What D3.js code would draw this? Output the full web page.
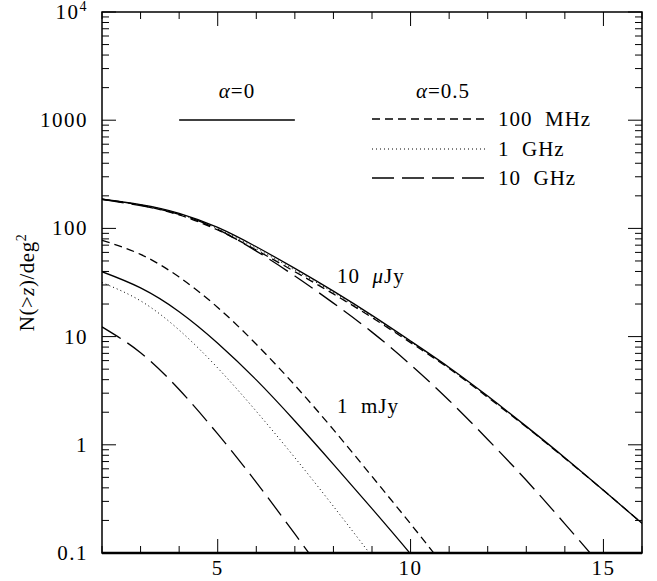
<!DOCTYPE html>
<html>
<head>
<meta charset="utf-8">
<script src="https://cdn.jsdelivr.net/npm/d3@7"></script>
<style>
  body { margin: 0; background: #fff; }
  svg text { font-family: "Liberation Serif", "DejaVu Serif", serif; fill: #000; }
</style>
</head>
<body>
<div id="chart"></div>
<script>
// Redshift grid (the curves are sampled at integer z)
const zGrid = [2, 3, 4, 5, 6, 7, 8, 9, 10, 11, 12, 13, 14, 15, 16];

// 10 microJy curves
const a0_10uJy = [186, 166, 138, 102, 67.6, 42.7, 26.3, 15.7, 9.1, 5.19, 2.82, 1.48, 0.76, 0.38, 0.188];
const mhz100_10uJy = [186, 164, 133, 96.6, 63.1, 39.8, 24.8, 15.0, 8.8, 5.07, 2.75, 1.46, 0.75, 0.38, 0.188];
const ghz1_10uJy = [186, 165, 136, 99.5, 65.3, 41.2, 25.6, 15.3, 8.97, 5.13, 2.79, 1.47, 0.755, 0.38, 0.188];
const ghz10_10uJy = [186, 162, 135, 98, 61.7, 36.3, 20.4, 11.0, 5.5, 2.57, 1.12, 0.47, 0.186, 0.072, 0.0275];

// 1 mJy curves
const a0_1mJy = [39.8, 28.2, 17.0, 8.7, 3.98, 1.66, 0.66, 0.257, 0.098, 0.036];
const mhz100_1mJy = [77.6, 57.5, 35.5, 18.6, 8.5, 3.55, 1.38, 0.51, 0.186, 0.066];
const ghz1_1mJy = [31.6, 21.4, 11.5, 5.13, 2.04, 0.76, 0.27, 0.093, 0.032];
const ghz10_1mJy = [12.3, 7.1, 3.24, 1.26, 0.45, 0.15, 0.049];

const xMajorTicks = [5, 10, 15];
const yMajorTicks = [0.1, 1, 10, 100, 1000, 10000];
const yTickLabels = ["0.1", "1", "10", "100", "1000", "10^4"];

const width = 657, height = 581;
const margin = { top: 12, right: 15, bottom: 28, left: 102 };
const w = width - margin.left - margin.right;
const h = height - margin.top - margin.bottom;

const svg = d3.select("#chart").append("svg")
    .attr("width", width)
    .attr("height", height);

const g = svg.append("g")
    .attr("transform", `translate(${margin.left},${margin.top})`);

const x = d3.scaleLinear().domain([2, 16]).range([0, w]);
const y = d3.scaleLog().domain([0.1, 10000]).range([h, 0]);

// minor tick positions
const xMinor = d3.range(2, 17).filter(v => !xMajorTicks.includes(v));
const yMinor = [];
yMajorTicks.slice(0, -1).forEach(d => {
    for (let k = 2; k <= 9; k++) yMinor.push(d * k);
});

g.append("defs").append("clipPath").attr("id", "clip")
    .append("rect").attr("width", w).attr("height", h);

// ticks (all pointing inward, on all four sides)
const ticks = g.append("g").attr("stroke", "#000").attr("stroke-width", 1);
xMajorTicks.forEach(v => {
    ticks.append("line").attr("x1", x(v)).attr("x2", x(v)).attr("y1", h).attr("y2", h - 14);
    ticks.append("line").attr("x1", x(v)).attr("x2", x(v)).attr("y1", 0).attr("y2", 14);
});
xMinor.forEach(v => {
    ticks.append("line").attr("x1", x(v)).attr("x2", x(v)).attr("y1", h).attr("y2", h - 7);
    ticks.append("line").attr("x1", x(v)).attr("x2", x(v)).attr("y1", 0).attr("y2", 7);
});
yMajorTicks.forEach(v => {
    ticks.append("line").attr("x1", 0).attr("x2", 14).attr("y1", y(v)).attr("y2", y(v));
    ticks.append("line").attr("x1", w).attr("x2", w - 14).attr("y1", y(v)).attr("y2", y(v));
});
yMinor.forEach(v => {
    ticks.append("line").attr("x1", 0).attr("x2", 7).attr("y1", y(v)).attr("y2", y(v));
    ticks.append("line").attr("x1", w).attr("x2", w - 7).attr("y1", y(v)).attr("y2", y(v));
});

// frame
g.append("rect").attr("width", w).attr("height", h)
    .attr("fill", "none").attr("stroke", "#000").attr("stroke-width", 1.5);
g.append("line").attr("x1", 0).attr("x2", w).attr("y1", h).attr("y2", h)
    .attr("stroke", "#000").attr("stroke-width", 2.5);

// tick labels
g.selectAll(".xlab").data(xMajorTicks).enter().append("text")
    .attr("class", "xlab")
    .attr("x", d => x(d)).attr("y", h + 22)
    .attr("text-anchor", "middle")
    .style("font-size", "21px")
    .style("letter-spacing", "1.5px")
    .text(d => d);

const ylab = g.selectAll(".ylab").data(yMajorTicks).enter().append("text")
    .attr("class", "ylab")
    .attr("x", -14).attr("y", d => y(d) + 7)
    .attr("text-anchor", "end")
    .style("font-size", "21px")
    .style("letter-spacing", "1.5px");
ylab.each(function (d, i) {
    const t = d3.select(this);
    const s = yTickLabels[i];
    if (s.includes("^")) {
        const [b, e] = s.split("^");
        t.append("tspan").text(b);
        t.append("tspan").attr("dy", -8).style("font-size", "14px").text(e);
    } else {
        t.text(s);
    }
});

// axis title
const yt = svg.append("text")
    .attr("transform", `translate(34,${margin.top + h / 2}) rotate(-90)`)
    .attr("text-anchor", "middle")
    .style("font-size", "21px")
    .style("letter-spacing", "0.5px");
yt.append("tspan").text("N(>");
yt.append("tspan").style("font-style", "italic").text("z");
yt.append("tspan").text(")/deg");
yt.append("tspan").attr("dy", -8).style("font-size", "14px").text("2");

// curves
const styles = {
    solid: null,
    shortDash: "8,5",
    dotted: "1,3",
    longDash: "22,8"
};
const series = [
    { values: a0_10uJy, style: "solid" },
    { values: mhz100_10uJy, style: "shortDash" },
    { values: ghz1_10uJy, style: "dotted" },
    { values: ghz10_10uJy, style: "longDash" },
    { values: a0_1mJy, style: "solid" },
    { values: mhz100_1mJy, style: "shortDash" },
    { values: ghz1_1mJy, style: "dotted" },
    { values: ghz10_1mJy, style: "longDash" }
];

const line = d3.line()
    .x(d => x(d[0]))
    .y(d => y(d[1]))
    .curve(d3.curveNatural);

const curves = g.append("g").attr("clip-path", "url(#clip)");
series.forEach(s => {
    const pts = s.values.map((v, i) => [zGrid[i], v]);
    curves.append("path")
        .datum(pts)
        .attr("d", line)
        .attr("fill", "none")
        .attr("stroke", "#000")
        .attr("stroke-width", s.style === "dotted" ? 1 : 1.3)
        .attr("stroke-dasharray", styles[s.style]);
});

// legend
const leg = g.append("g");
const lg = (t, xx, yy, anchor) => leg.append("text")
    .attr("x", xx).attr("y", yy)
    .attr("text-anchor", anchor || "start")
    .style("font-size", "21px")
    .style("letter-spacing", "1px")
    .style("white-space", "pre");
let t1 = lg("", x(5.5), 86, "middle");
t1.append("tspan").style("font-style", "italic").text("α");
t1.append("tspan").text("=0");
let t2 = lg("", 341, 86, "middle");
t2.append("tspan").style("font-style", "italic").text("α");
t2.append("tspan").text("=0.5");

leg.append("line").attr("x1", x(4)).attr("x2", x(7)).attr("y1", 108).attr("y2", 108)
    .attr("stroke", "#000").attr("stroke-width", 1.3);
const legItems = [
    { label: "100  MHz", style: "shortDash", yy: 107 },
    { label: "1  GHz", style: "dotted", yy: 137 },
    { label: "10  GHz", style: "longDash", yy: 166 }
];
legItems.forEach(d => {
    leg.append("line").attr("x1", 270).attr("x2", 386).attr("y1", d.yy).attr("y2", d.yy)
        .attr("stroke", "#000").attr("stroke-width", d.style === "dotted" ? 1 : 1.3)
        .attr("stroke-dasharray", styles[d.style]);
    lg(d.label, 396, d.yy + 7).text(d.label);
});

// curve annotations
const a1 = lg("", 235, 271);
a1.append("tspan").text("10  ");
a1.append("tspan").style("font-style", "italic").text("μ");
a1.append("tspan").text("Jy");
lg("1  mJy", 235, 401).text("1  mJy");
</script>
</body>
</html>
